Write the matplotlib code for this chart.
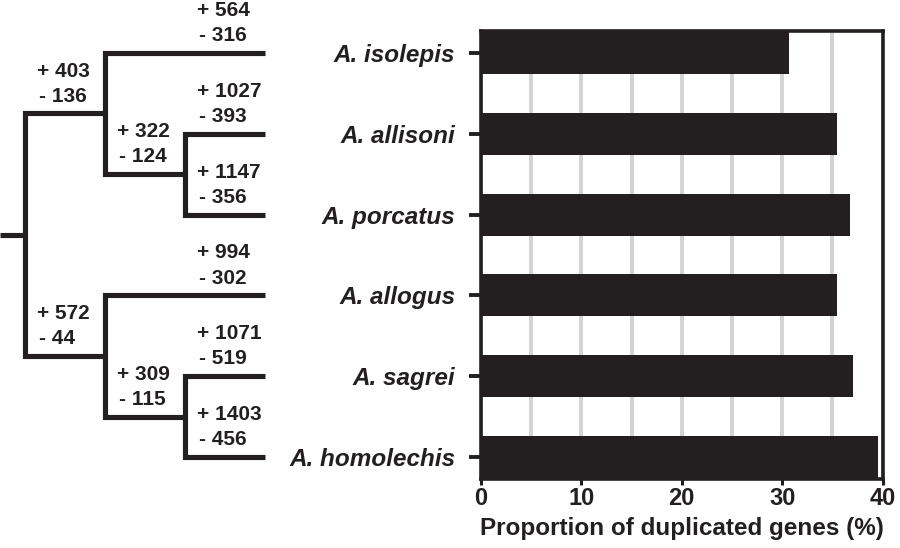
import matplotlib
matplotlib.use("Agg")
import matplotlib.pyplot as plt
from matplotlib.ticker import MultipleLocator

# species in tree order (top to bottom)
species = ["A. isolepis", "A. allisoni", "A. porcatus", "A. allogus", "A. sagrei", "A. homolechis"]
dupProportion = [30.7, 35.5, 36.8, 35.5, 37.1, 39.6]   # Proportion of duplicated genes (%)

# gene gains / losses on tip branches (same order as species)
tipGains = [564, 1027, 1147, 994, 1071, 1403]
tipLosses = [316, 393, 356, 302, 519, 456]

# internal nodes: (children, gain, loss) ; children are tip indices or node names
nodes = {
    "B": ([1, 2], 322, 124),
    "A": ([0, "B"], 403, 136),
    "D": ([4, 5], 309, 115),
    "C": ([3, "D"], 572, 44),
    "root": (["A", "C"], None, None),
}
nodeDepth = {"root": 0, "A": 1, "C": 1, "B": 2, "D": 2}
tipDepth = 3

dark = "#231f20"
gridCol = "#d1d3d4"

plt.rcParams['font.family'] = ['Liberation Sans', 'DejaVu Sans']

fig = plt.figure(figsize=(9, 5.48), dpi=100)

axBottom = 1 - 479 / 548
axHeight = (479 - 31) / 548
yLim = (5.27, -0.27)

# ---------- bar chart ----------
ax = fig.add_axes([481 / 900, axBottom, (882.5 - 481) / 900, axHeight])
yPos = list(range(len(species)))
ax.barh(yPos, dupProportion, height=0.52, color=dark, zorder=3)
ax.set_xlim(0, 40)
ax.set_ylim(*yLim)
ax.set_xticks([0, 10, 20, 30, 40])
ax.xaxis.set_minor_locator(MultipleLocator(5))
ax.grid(which="both", axis="x", color=gridCol, linewidth=2.8, zorder=0)
ax.set_axisbelow(True)
ax.set_yticks(yPos)
ax.set_yticklabels(species, fontsize=17.5, fontweight="bold", fontstyle="italic", color=dark)
for lab in ax.get_xticklabels():
    lab.set_fontsize(17)
    lab.set_fontweight("bold")
    lab.set_color(dark)
ax.tick_params(axis="y", length=8.6, width=2.8, pad=10, color=dark)
ax.tick_params(axis="x", which="major", length=4.5, width=2.2, pad=1.5, color=dark)
ax.tick_params(axis="x", which="minor", length=0)
for s in ax.spines.values():
    s.set_linewidth(2.6)
    s.set_color(dark)
ax.set_xlabel("Proportion of duplicated genes (%)", fontsize=17.5, fontweight="bold",
              color=dark, labelpad=4.5)

# ---------- tree ----------
tr = fig.add_axes([0, axBottom, 470 / 900, axHeight])
tr.set_xlim(0, 470)
tr.set_ylim(*yLim)
tr.axis("off")

def xOfDepth(d):
    return 25 + 80 * d

pos = {}
for i in range(len(species)):
    pos[i] = (xOfDepth(tipDepth), i)

def place(name):
    if name in pos:
        return pos[name]
    kids = nodes[name][0]
    ys = [place(k)[1] for k in kids]
    pos[name] = (xOfDepth(nodeDepth[name]), sum(ys) / len(ys))
    return pos[name]

place("root")

lineKw = dict(color=dark, linewidth=3.7, solid_joinstyle="miter", solid_capstyle="butt")
for name in nodes:
    kids = nodes[name][0]
    px, py = pos[name]
    (x1, y1), (x2, y2) = pos[kids[0]], pos[kids[1]]
    tr.plot([x1, px, px, x2], [y1, y1, y2, y2], **lineKw)
rx, ry = pos["root"]
tr.plot([0, rx], [ry, ry], **lineKw)

def branchLabel(x, y, gain, loss):
    tr.text(x - 68, y - 0.525, "+ %d" % gain, fontsize=15, fontweight="bold",
            color=dark, ha="left", va="center")
    tr.text(x - 66, y - 0.215, "- %d" % loss, fontsize=15, fontweight="bold",
            color=dark, ha="left", va="center")

for i in range(len(species)):
    branchLabel(pos[i][0], pos[i][1], tipGains[i], tipLosses[i])
for name in nodes:
    g, l = nodes[name][1], nodes[name][2]
    if g is not None:
        branchLabel(pos[name][0], pos[name][1], g, l)

fig.savefig("out.png", dpi=100)
